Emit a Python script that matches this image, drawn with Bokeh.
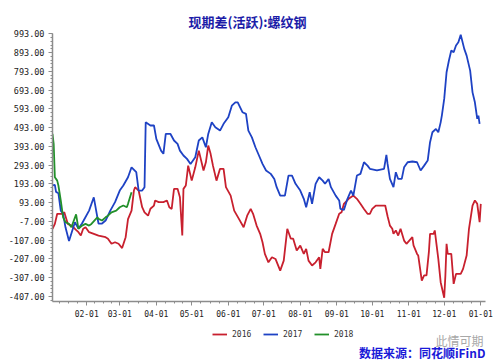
import pandas as pd
from bokeh.plotting import figure
from bokeh.layouts import column
from bokeh.models import (FixedTicker, PrintfTickFormatter, Legend, LegendItem, Range1d, Title, Label)
from bokeh.embed import file_html
from bokeh.resources import INLINE

# ---- data (day of year offset, value) ----
days_2016 = [2, 4, 6, 10, 12, 15, 18, 21, 24, 26, 28, 30, 33, 37, 41, 47, 49, 52, 55, 58, 61, 64, 66,
             69, 71, 72, 75, 78, 80, 83, 85, 88, 89, 92, 96, 99, 101, 103, 105, 108, 110, 112, 113, 115,
             117, 120, 123, 126, 130, 132, 134, 136, 138, 141, 144, 147, 149, 153, 156, 160, 164, 167,
             170, 172, 175, 178, 180, 182, 185, 188, 191, 195, 198, 201, 204, 206, 209, 212, 215, 217,
             219, 222, 225, 228, 229, 231, 233, 236, 239, 242, 245, 247, 249, 253, 257, 260, 263, 266,
             269, 271, 273, 276, 284, 286, 288, 290, 291, 293, 295, 297, 300, 302, 307, 308, 311, 312,
             315, 317, 319, 321, 322, 325, 326, 329, 331, 334, 335, 336, 337, 340, 342, 344, 348, 350,
             353, 355, 358, 360, 362, 364, 365]
vals_2016 = [-47, -21, 33, 33, 41, -21, -30, -47, -65, -83, -47, -39, -65, -74, -83, -92, -100, -127,
             -119, -127, -150, -92, 5, 50, 157, 175, 157, 68, 41, 23, 60, 77, 104, 95, 95, 104, 68, 59,
             166, 166, 121, -83, 166, 184, 290, 210, 281, 370, 264, 308, 397, 353, 290, 210, 273, 273,
             175, 130, 50, 6, -39, 23, 59, 33, -30, -74, -119, -181, -226, -199, -208, -270, -217, -47,
             -100, -100, -163, -137, -181, -154, -217, -243, -226, -199, -261, -154, -172, -172, -74,
             -21, 33, 41, 86, 113, 130, 113, 86, 59, 33, 33, 59, 77, 77, 20, -30, -47, -74, -56, -83,
             -47, -110, -127, -92, -136, -181, -190, -323, -296, -296, -172, -74, -74, -56, -208, -332,
             -415, -296, -127, -181, -181, -341, -288, -288, -261, -190, -47, 77, 104, 86, -12, 86]

days_2017 = [2, 4, 5, 7, 9, 11, 13, 16, 18, 21, 24, 27, 33, 37, 40, 41, 44, 47, 51, 55, 59, 62, 66, 69,
             73, 75, 78, 80, 81, 85, 88, 90, 94, 96, 98, 102, 105, 108, 110, 113, 116, 119, 123, 126,
             129, 132, 134, 137, 140, 144, 147, 151, 154, 157, 159, 163, 166, 168, 171, 174, 177, 180,
             183, 187, 190, 192, 195, 199, 202, 205, 208, 212, 215, 217, 220, 222, 225, 228, 231, 233,
             236, 238, 242, 245, 246, 249, 252, 255, 257, 260, 263, 266, 269, 271, 277, 283, 285, 286,
             288, 291, 293, 295, 298, 300, 303, 307, 311, 314, 317, 320, 322, 324, 327, 329, 331, 332,
             334, 336, 338, 340, 342, 344, 346, 348, 351, 353, 356, 358, 360, 362, 363, 364]
vals_2017 = [184, 187, 150, 143, 50, 33, -39, -112, -72, -12, -46, -19, 50, 121, 15, -19, -19, -3, 50,
             95, 157, 184, 228, 281, 255, 157, 157, 175, 521, 504, 504, 433, 370, 353, 459, 459, 424,
             406, 370, 344, 326, 299, 335, 424, 441, 388, 459, 521, 495, 477, 513, 548, 610, 628, 628,
             575, 566, 477, 441, 388, 344, 299, 264, 246, 219, 175, 130, 130, 237, 237, 193, 157, 113,
             68, 148, 86, 193, 228, 210, 193, 219, 175, 130, 104, 59, 54, 113, 157, 130, 237, 246, 308,
             290, 273, 264, 273, 347, 299, 219, 175, 255, 219, 219, 281, 308, 312, 308, 264, 290, 317,
             415, 468, 486, 468, 521, 557, 646, 788, 851, 904, 895, 931, 948, 988, 913, 877, 797, 681,
             628, 540, 557, 513]

days_2018 = [2, 3, 4, 6, 7, 9, 11, 13, 16, 18, 22, 24, 27, 30, 33, 35, 40, 41, 44, 47, 49, 52, 56, 59,
             62, 65, 66, 69]
vals_2018 = [459, 406, 228, 210, 184, 104, 14, -12, -21, -39, 30, -47, -30, -21, -30, -21, 14, 6, -3,
             14, 23, 41, 50, 68, 77, 68, 86, 148]

series_names = ["2016", "2017", "2018"]
series_colors = ["#C8202E", "#1E42C4", "#22902A"]

tick_labels = ["02-01", "03-01", "04-01", "05-01", "06-01", "07-01", "08-01", "09-01",
               "10-01", "11-01", "12-01", "01-01"]
y_ticks = [-407, -307, -207, -107, -7, 93, 193, 293, 393, 493, 593, 693, 793, 893, 993]

title_text = "现期差(活跃):螺纹钢"
source_text = "数据来源：同花顺iFinD"
watermark_text = "此情可期"

all_days = [days_2016, days_2017, days_2018]
all_vals = [vals_2016, vals_2017, vals_2018]

# ---- ticks ----
base = pd.Timestamp("2017-01-01")
month_starts = [(pd.Timestamp(2017, m, 1) - base).days for m in range(1, 13)] + [365]
x_major = month_starts[1:]
x_minor = []
for i in range(12):
    s, e = month_starts[i], month_starts[i + 1]
    for k in range(4):
        x_minor.append(s + (e - s) * k / 4)
x_minor.append(365)
y_minor = list(range(-427, 1000, 20))

# ---- main chart ----
p = figure(width=500, height=322, output_backend="svg", toolbar_location=None,
           x_range=Range1d(2, 369), y_range=Range1d(-435, 995),
           min_border_left=52, min_border_right=15, min_border_top=33, min_border_bottom=21)
p.outline_line_color = None
p.xgrid.visible = False
p.ygrid.visible = False
p.background_fill_color = "white"
p.border_fill_color = "white"

xa = p.xaxis[0]
xa.ticker = FixedTicker(ticks=x_major, minor_ticks=x_minor)
xa.major_label_overrides = {t: l for t, l in zip(x_major, tick_labels)}
ya = p.yaxis[0]
ya.ticker = FixedTicker(ticks=y_ticks, minor_ticks=y_minor)
ya.formatter = PrintfTickFormatter(format="%.2f")

for ax in (xa, ya):
    ax.axis_line_color = "#8C8C8C"
    ax.axis_line_width = 1.5
    ax.major_tick_line_color = "#8C8C8C"
    ax.minor_tick_line_color = "#8C8C8C"
    ax.major_tick_in = 0
    ax.minor_tick_in = 0
    ax.major_label_text_font = "DejaVu Sans Mono"
    ax.major_label_text_color = "#222222"
xa.major_tick_out = 4
xa.minor_tick_out = 2
xa.major_label_standoff = 4
xa.major_label_text_font_size = "8px"
ya.major_tick_out = 4
ya.minor_tick_out = 2
ya.major_label_standoff = 4
ya.major_label_text_font_size = "8.5px"

for d, v, c in zip(all_days, all_vals, series_colors):
    p.line(d, v, line_color=c, line_width=1.8)

p.add_layout(Title(text=title_text, align="left", offset=136, standoff=5,
                   text_font="Noto Sans CJK SC", text_font_style="bold", text_font_size="13px",
                   text_color="#1C1CA8"), "above")

# ---- legend / source strip (frame aligned with the chart above) ----
q = figure(width=500, height=41, output_backend="svg", toolbar_location=None,
           x_range=Range1d(0, 1), y_range=Range1d(0, 1),
           x_axis_location=None, y_axis_location=None,
           min_border_left=0, min_border_right=0, min_border_top=0, min_border_bottom=0)
q.outline_line_color = None
q.xgrid.visible = False
q.ygrid.visible = False
q.border_fill_color = "white"

# legend keys: same series, drawn out of this strip's range (only their keys show)
keys = [q.line(d, v, line_color=c, line_width=1.8) for d, v, c in zip(all_days, all_vals, series_colors)]
legend = Legend(items=[LegendItem(label=n, renderers=[r]) for n, r in zip(series_names, keys)],
                location=(160, 22), orientation="horizontal", padding=0, margin=0,
                spacing=11, glyph_width=15, glyph_height=14, label_height=14, label_standoff=5,
                label_text_font="DejaVu Sans Mono", label_text_font_size="8px",
                label_text_color="#333333", border_line_color=None, background_fill_alpha=0)
q.add_layout(legend)

q.add_layout(Label(x=383, y=23, x_units="screen", y_units="screen", text=watermark_text,
                   text_font="Noto Sans CJK SC", text_font_size="12px",
                   text_color="#A8A8A8", text_baseline="middle", text_align="left"))
q.add_layout(Label(x=433, y=11, x_units="screen", y_units="screen", text=source_text,
                   text_font="Noto Sans CJK SC", text_font_style="bold", text_font_size="12px",
                   text_color="#1A1AD8", text_baseline="middle", text_align="right"))

layout = column(p, q, spacing=0)
open("out.html", "w").write(file_html(layout, INLINE))
